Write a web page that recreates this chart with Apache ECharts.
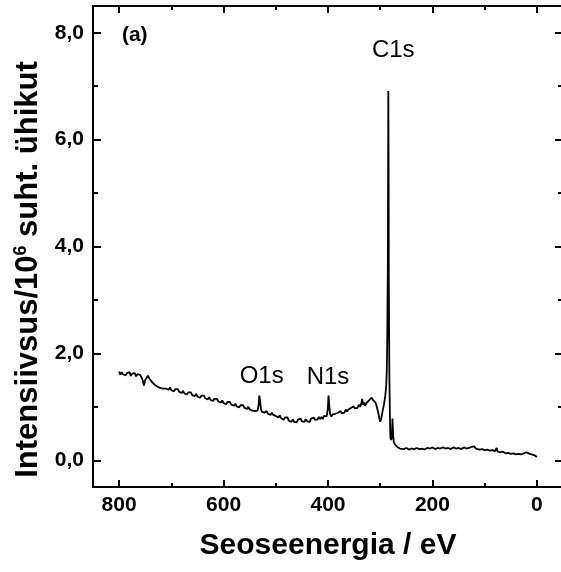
<!DOCTYPE html>
<html><head><meta charset="utf-8">
<script src="https://cdn.jsdelivr.net/npm/echarts@6/dist/echarts.min.js"></script>
<style>html,body{margin:0;padding:0;background:#fff}#c{width:561px;height:572px}</style>
</head><body><div id="c"></div>
<script>
// Binding energy (eV) and intensity (10^6 arb. units)
const energy = [
800,797.5,795,792.5,790,787.5,785,782.5,780,777.5,775,772.5,770,767.5,765,762.5,760,
757.5,755,752.5,750,747.5,745,742.5,740,737.5,735,732.5,730,
727.5,725,722.5,720,717.5,715,712.5,710,707.5,705,702.5,700,697.5,695,692.5,690,687.5,685,682.5,680,
677.5,675,672.5,670,667.5,665,662.5,660,657.5,655,652.5,650,647.5,645,642.5,640,637.5,635,632.5,630,
627.5,625,622.5,620,617.5,615,612.5,610,607.5,605,602.5,600,597.5,595,592.5,590,587.5,585,582.5,580,
577.5,575,572.5,570,567.5,565,562.5,560,557.5,555,552.5,550,
547.5,545,542.5,540,537.5,535,533,531.5,530,528.5,527,525,522.5,520,
517.5,515,512.5,510,507.5,505,502.5,500,497.5,495,492.5,490,487.5,485,482.5,480,477.5,475,472.5,470,
467.5,465,462.5,460,457.5,455,452.5,450,447.5,445,442.5,440,437.5,435,432.5,430,427.5,425,422.5,420,
417.5,415,412.5,410,407.5,405,
402.5,400.5,399,397.5,396,393.5,
391,388.5,386,383.5,381,378.5,376,373.5,371,368.5,366,363.5,361,358.5,356,353.5,351,348.5,346,343.5,341,
338.5,336,334.5,333,331,329,326.5,324,321.5,319,316.5,314,311.5,309,306.5,304,301.5,300,298,295.5,293,290.5,
288.5,287.5,286.5,285.5,285,284.5,284,283.5,282.5,281.5,280.5,279,277.5,276.5,275.5,274,272,270,267.5,265,
262.5,260,255,250,245,240,235,230,225,220,215,210,205,200,195,190,185,180,175,170,165,160,155,150,145,140,
135,130,125,122,120,117,115,110,105,100,95,90,85,80,77,75,70,65,60,55,50,45,40,35,30,25,20,17,14,10,7,4,2,0];
const intensity = [
1.66,1.60,1.65,1.61,1.64,1.59,1.63,1.60,1.65,1.58,1.62,1.59,1.63,1.57,1.61,1.58,1.60,
1.56,1.50,1.40,1.50,1.54,1.58,1.55,1.50,1.47,1.44,1.43,1.40,
1.41,1.37,1.38,1.35,1.37,1.34,1.37,1.34,1.35,1.32,1.36,1.31,1.33,1.29,1.33,1.30,1.33,1.28,1.29,1.26,
1.30,1.25,1.27,1.23,1.27,1.24,1.27,1.22,1.23,1.20,1.24,1.19,1.21,1.17,1.21,1.18,1.21,1.16,1.17,1.14,
1.18,1.13,1.15,1.11,1.15,1.12,1.15,1.10,1.11,1.08,1.12,1.07,1.09,1.05,1.09,1.06,1.09,1.04,1.05,1.02,
1.06,1.01,1.03,0.99,1.03,1.00,1.03,0.98,0.99,0.96,1.00,0.95,
0.97,0.93,0.96,0.92,0.94,0.93,1.02,1.21,1.10,0.97,0.91,0.93,0.89,0.91,
0.92,0.87,0.89,0.85,0.89,0.85,0.88,0.83,0.84,0.80,0.84,0.79,0.81,0.76,0.80,0.77,0.80,0.74,0.75,0.72,
0.77,0.72,0.75,0.71,0.76,0.74,0.78,0.73,0.75,0.72,0.77,0.73,0.76,0.72,0.78,0.76,0.80,0.76,0.78,0.76,
0.81,0.77,0.81,0.77,0.83,0.81,
0.82,0.95,1.21,1.02,0.86,0.82,
0.86,0.83,0.87,0.84,0.89,0.88,0.92,0.88,0.91,0.89,0.95,0.91,0.95,0.92,0.98,0.96,1.01,0.97,1.00,0.98,1.04,
1.00,1.07,1.15,1.04,1.08,1.02,1.07,1.05,1.12,1.10,1.17,1.13,1.14,1.08,1.00,0.90,0.78,0.72,0.78,0.92,1.04,1.18,
1.40,1.65,2.3,3.5,5.0,6.91,5.6,3.2,1.6,0.85,0.42,0.38,0.45,0.78,0.50,0.34,0.30,0.27,0.25,0.23,
0.22,0.24,0.21,0.23,0.20,0.22,0.21,0.23,0.21,0.22,0.20,0.23,0.22,0.24,0.21,0.23,0.22,0.24,0.22,0.23,0.21,0.24,0.22,0.23,0.21,0.24,
0.22,0.23,0.25,0.23,0.26,0.22,0.23,0.20,0.21,0.19,0.20,0.18,0.19,0.17,0.23,0.16,0.15,0.16,0.13,0.14,0.12,0.13,0.11,0.12,0.11,0.13,0.15,0.14,0.12,0.11,0.12,0.09,0.12,0.06];

const xMajorTicks = [800,600,400,200,0];
const xMinorTicks = [700,500,300,100];
const yMajorTicks = [0,2,4,6,8];
const yMinorTicks = [1,3,5,7];

const annotationText = ['C1s','O1s','N1s'];
const annotationX = [275,527,400];
const annotationY = [7.67,1.575,1.556];
const panelLabel = '(a)';
const panelX = 770, panelY = 7.95;

const FONT = 'Liberation Sans, Arial, sans-serif';
const X_MIN = -50, X_MAX = 850, Y_MIN = -0.5, Y_MAX = 8.5;

function xAxisCfg(pos, ticks, len, labels) {
  return {
    type: 'value', position: pos, min: X_MIN, max: X_MAX, inverse: true,
    axisLine: {show: true, onZero: false, lineStyle: {color: '#000', width: 2}},
    axisTick: {show: true, inside: true, length: len, customValues: ticks, lineStyle: {color: '#000', width: 2}},
    axisLabel: labels ? {show: true, customValues: ticks, fontFamily: FONT, fontWeight: 'bold', fontSize: 21, color: '#000', margin: 8} : {show: false},
    splitLine: {show: false}
  };
}
function yAxisCfg(pos, ticks, len, labels) {
  return {
    type: 'value', position: pos, min: Y_MIN, max: Y_MAX,
    axisLine: {show: true, onZero: false, lineStyle: {color: '#000', width: 2}},
    axisTick: {show: true, inside: true, length: len, customValues: ticks, lineStyle: {color: '#000', width: 2}},
    axisLabel: labels ? {show: true, customValues: ticks, fontFamily: FONT, fontWeight: 'bold', fontSize: 21, color: '#000', margin: 9,
      formatter: v => v.toFixed(1).replace('.', ',')} : {show: false},
    splitLine: {show: false}
  };
}

const xAxes = [
  xAxisCfg('bottom', xMajorTicks, 7, true),
  xAxisCfg('bottom', xMinorTicks, 4, false),
  xAxisCfg('top', xMajorTicks, 7, false),
  xAxisCfg('top', xMinorTicks, 4, false)
];
Object.assign(xAxes[0], {name: 'Seoseenergia / eV', nameLocation: 'middle', nameGap: 44,
  nameTextStyle: {fontFamily: FONT, fontWeight: 'bold', fontSize: 30, color: '#000'}});
const yAxes = [
  yAxisCfg('left', yMajorTicks, 8, true),
  yAxisCfg('left', yMinorTicks, 5, false),
  yAxisCfg('right', yMajorTicks, 8, false),
  yAxisCfg('right', yMinorTicks, 5, false)
];
Object.assign(yAxes[0], {
  name: '{a|Intensiivsus/10}{s|6}{a| suht. ühikut}', nameLocation: 'middle', nameGap: 45,
  nameTextStyle: {padding: [0, 46, 0, 0], rich: {
    a: {fontFamily: FONT, fontWeight: 'bold', fontSize: 31, color: '#000'},
    s: {fontFamily: FONT, fontWeight: 'bold', fontSize: 18, color: '#000', verticalAlign: 'top', padding: [0, 0, 14, 0]}
  }}
});

const lineData = energy.map((e, i) => [e, intensity[i]]);
const markData = annotationText.map((t, i) => ({name: t, coord: [annotationX[i], annotationY[i]]}));
markData.push({name: panelLabel, coord: [panelX, panelY], label: {fontWeight: 'bold', fontSize: 21}});

const chart = echarts.init(document.getElementById('c'), null, {renderer: 'canvas'});
chart.setOption({
  animation: false,
  backgroundColor: '#fff',
  grid: {left: 93, top: 6, width: 470, height: 481, containLabel: false, outerBoundsMode: 'none'},
  xAxis: xAxes,
  yAxis: yAxes,
  series: [{
    type: 'line', xAxisIndex: 0, yAxisIndex: 0, data: lineData, showSymbol: false, symbol: 'none',
    lineStyle: {color: '#000', width: 1.8}, silent: true,
    markPoint: {symbol: 'circle', symbolSize: 0, silent: true,
      label: {show: true, position: 'inside', formatter: '{b}', fontFamily: FONT, fontSize: 24, color: '#000'},
      data: markData}
  }]
});
</script></body></html>
